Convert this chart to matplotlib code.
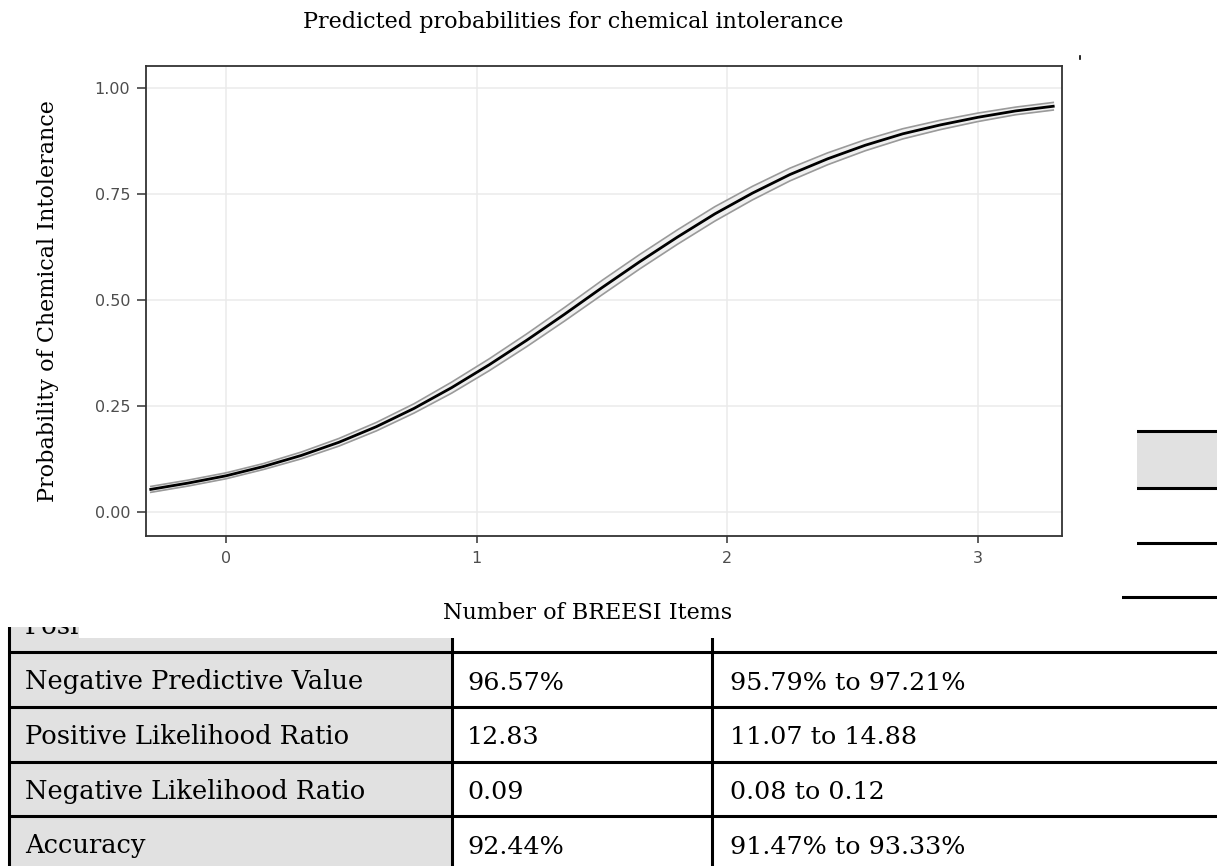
import numpy as np
import matplotlib.pyplot as plt
from matplotlib.patches import Polygon, Rectangle

# predicted probability curve
x_items = [-0.30, -0.15, 0.00, 0.15, 0.30, 0.45, 0.60, 0.75, 0.90, 1.05, 1.20, 1.35, 1.50,
           1.65, 1.80, 1.95, 2.10, 2.25, 2.40, 2.55, 2.70, 2.85, 3.00, 3.15, 3.30]
prob = [0.053, 0.068, 0.085, 0.107, 0.133, 0.164, 0.201, 0.244, 0.293, 0.347, 0.405, 0.466, 0.529,
        0.590, 0.648, 0.703, 0.752, 0.796, 0.833, 0.865, 0.892, 0.913, 0.931, 0.946, 0.957]
prob_lo = [0.046, 0.061, 0.078, 0.100, 0.125, 0.155, 0.191, 0.233, 0.280, 0.333, 0.390, 0.450, 0.512,
           0.573, 0.631, 0.686, 0.736, 0.781, 0.819, 0.852, 0.880, 0.902, 0.921, 0.937, 0.948]
prob_hi = [0.060, 0.075, 0.092, 0.114, 0.141, 0.173, 0.211, 0.255, 0.306, 0.361, 0.420, 0.482, 0.546,
           0.607, 0.665, 0.720, 0.768, 0.811, 0.847, 0.878, 0.904, 0.924, 0.941, 0.955, 0.966]
x_ticks = [0, 1, 2, 3]
y_ticks = [0.00, 0.25, 0.50, 0.75, 1.00]
y_ticklabels = ["0.00", "0.25", "0.50", "0.75", "1.00"]

# table behind the chart (only partly visible)
metrics = ["Positive Predictive Value", "Negative Predictive Value", "Positive Likelihood Ratio",
           "Negative Likelihood Ratio", "Accuracy"]
values = ["", "96.57%", "12.83", "0.09", "92.44%"]
ci_text = ["", "95.79% to 97.21%", "11.07 to 14.88", "0.08 to 0.12", "91.47% to 93.33%"]

W, H = 1217, 866
fig = plt.figure(figsize=(W / 100, H / 100), dpi=100)

bg = fig.add_axes([0, 0, 1, 1], zorder=0)
bg.set_xlim(0, W)
bg.set_ylim(H, 0)
bg.axis('off')

serif = ['DejaVu Serif']
row_edges = [431, 488, 543, 597, 652, 707, 762, 816, 871]
col_x = [9, 452, 712]
lw_tab = 2.2

bg.add_patch(Rectangle((col_x[0], row_edges[0]), W - col_x[0], row_edges[1] - row_edges[0],
                       facecolor='#e1e1e1', edgecolor='none', zorder=1))
bg.add_patch(Rectangle((col_x[0], row_edges[1]), col_x[1] - col_x[0], row_edges[-1] - row_edges[1],
                       facecolor='#e1e1e1', edgecolor='none', zorder=1))
for y in row_edges:
    bg.plot([col_x[0], W], [y, y], color='black', lw=lw_tab, solid_capstyle='butt', zorder=2)
for x in col_x:
    bg.plot([x, x], [row_edges[0], row_edges[-1]], color='black', lw=lw_tab, solid_capstyle='butt', zorder=2)

for i, name in enumerate(metrics):
    top = row_edges[3 + i]
    bot = row_edges[4 + i]
    yb = (top + bot) / 2 + 10
    bg.text(25, yb, name, family=serif, fontsize=18.5, va='baseline', zorder=3)
    bg.text(467, yb, values[i], family=serif, fontsize=18.3, va='baseline', zorder=3)
    bg.text(730, yb, ci_text[i], family=serif, fontsize=18.3, va='baseline', zorder=3)

# white area of the pasted chart image covering the table
cover = [(0, 0), (1137, 0), (1137, 594), (1122, 594), (1122, 638), (79, 638), (79, 627), (0, 627)]
bg.add_patch(Polygon(cover, closed=True, facecolor='white', edgecolor='none', zorder=5))
bg.plot([1080, 1080], [56, 59], color='black', lw=1.2, zorder=6)

bg.text(303, 22, "Predicted probabilities for chemical intolerance", family=serif,
        fontsize=16, ha='left', va='center', zorder=6)
bg.text(588, 613, "Number of BREESI Items", family=serif, fontsize=16,
        ha='center', va='center', zorder=6)
bg.text(48, 301, "Probability of Chemical Intolerance", family=serif, fontsize=16,
        ha='center', va='center', rotation=90, zorder=6)

# the plot panel
ax = fig.add_axes([146 / W, (H - 536) / H, 916 / W, 470 / H], zorder=2)
ax.set_facecolor('white')
ax.fill_between(x_items, prob_lo, prob_hi, color='#f0f0f0', lw=0, zorder=2)
ax.plot(x_items, prob_lo, color='#9a9a9a', lw=1.2, zorder=3)
ax.plot(x_items, prob_hi, color='#9a9a9a', lw=1.2, zorder=3)
ax.plot(x_items, prob, color='black', lw=2.0, zorder=4)

ax.set_xlim(-0.319, 3.335)
ax.set_ylim(-0.057, 1.052)
ax.set_xticks(x_ticks)
ax.set_yticks(y_ticks)
ax.set_yticklabels(y_ticklabels)
ax.grid(True, color='#ebebeb', lw=1.1, zorder=0)
ax.set_axisbelow(True)
for s in ax.spines.values():
    s.set_color('#333333')
    s.set_linewidth(1.3)
ax.tick_params(axis='both', colors='#333333', labelcolor='#4d4d4d', labelsize=11.5, width=1.1)
ax.tick_params(axis='y', length=6.5, pad=5)
ax.tick_params(axis='x', length=5, pad=6)

fig.savefig('out.png', dpi=100)
